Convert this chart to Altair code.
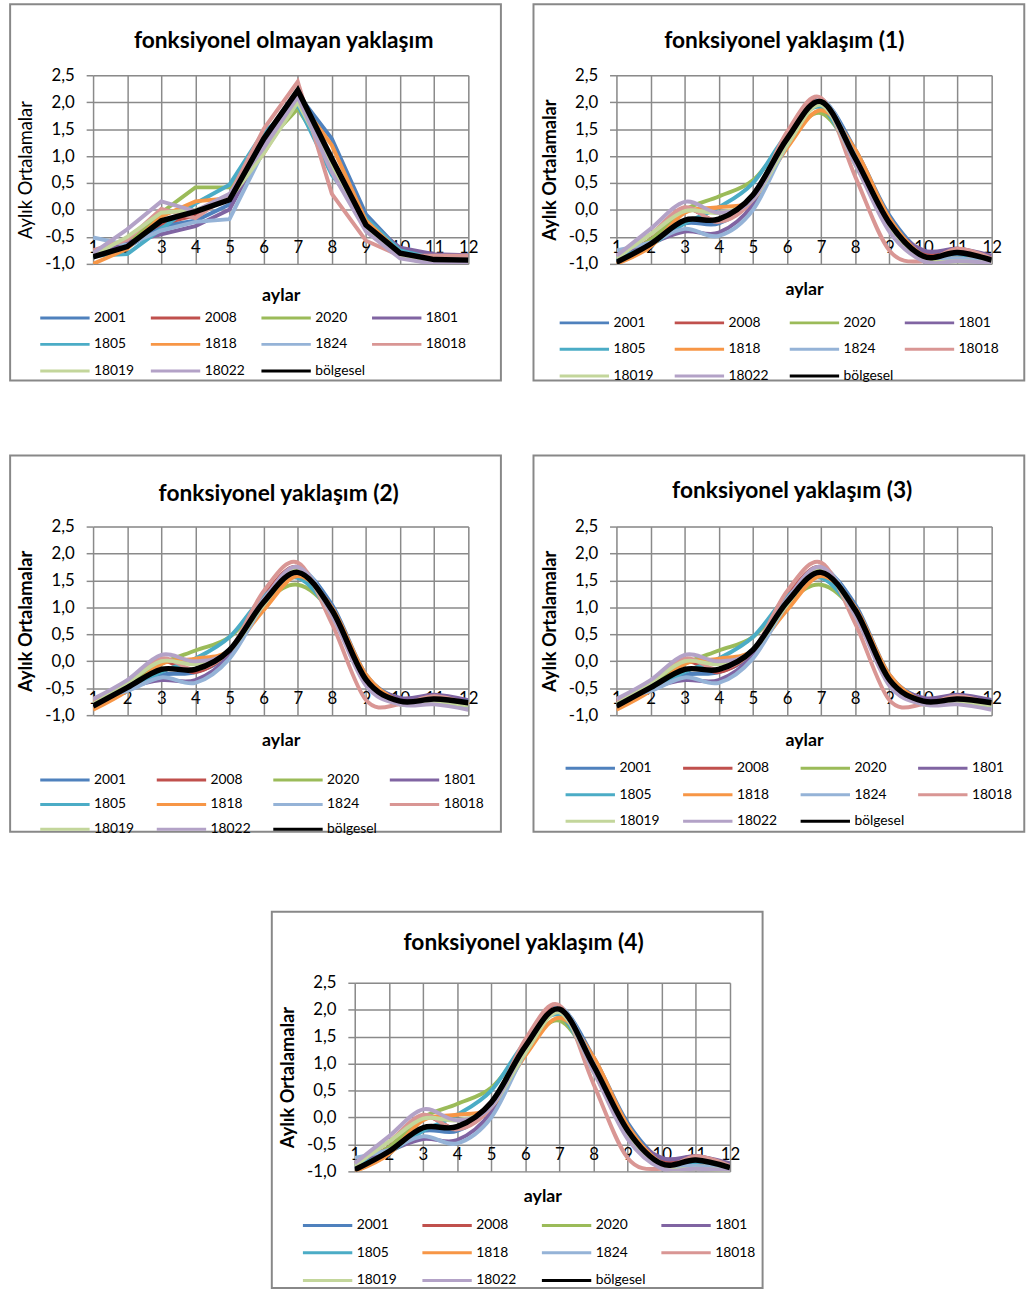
import altair as alt
import pandas as pd

MONTHS = list(range(1, 13))
SERIES = ["2001", "2008", "2020", "1801", "1805", "1818", "1824",
          "18018", "18019", "18022", "bölgesel"]
COLORS = ["#4F81BD", "#C0504D", "#9BBB59", "#8064A2", "#4BACC6", "#F79646",
          "#95B3D7", "#D99694", "#C3D69B", "#B3A2C7", "#000000"]
Y_TICKS = [-1.0, -0.5, 0.0, 0.5, 1.0, 1.5, 2.0, 2.5]
TITLES = ["fonksiyonel olmayan yaklaşım", "fonksiyonel yaklaşım (1)",
          "fonksiyonel yaklaşım (2)", "fonksiyonel yaklaşım (3)",
          "fonksiyonel yaklaşım (4)"]

# panel 1 : fonksiyonel olmayan yaklaşım
RAW_2001 = [-0.85, -0.70, -0.30, -0.20, 0.10, 1.25, 2.15, 1.32, -0.08, -0.75, -0.90, -0.92]
RAW_2008 = [-0.78, -0.58, -0.25, -0.10, 0.25, 1.30, 2.20, 0.90, -0.30, -0.80, -0.88, -0.88]
RAW_2020 = [-0.85, -0.65, -0.05, 0.42, 0.42, 1.20, 1.88, 0.90, -0.25, -0.88, -1.00, -1.00]
RAW_1801 = [-0.80, -0.60, -0.45, -0.30, 0.01, 1.20, 2.20, 0.90, -0.20, -0.70, -0.82, -0.84]
RAW_1805 = [-0.85, -0.82, -0.35, 0.12, 0.47, 1.45, 1.95, 0.65, -0.15, -0.75, -0.90, -0.92]
RAW_1818 = [-1.00, -0.72, -0.12, 0.16, 0.22, 1.05, 2.06, 1.20, -0.20, -0.80, -0.95, -0.95]
RAW_1824 = [-0.51, -0.65, -0.38, -0.22, -0.17, 1.10, 2.15, 0.85, -0.30, -0.82, -0.95, -0.96]
RAW_18018 = [-0.75, -0.55, 0.02, -0.15, 0.28, 1.50, 2.38, 0.30, -0.57, -0.85, -0.85, -0.85]
RAW_18019 = [-0.85, -0.50, -0.05, 0.00, 0.20, 1.05, 2.00, 0.80, -0.30, -0.85, -1.00, -1.00]
RAW_18022 = [-0.80, -0.36, 0.16, -0.02, 0.30, 1.15, 2.10, 0.70, -0.40, -0.90, -1.00, -1.00]
RAW_REG = [-0.87, -0.68, -0.20, -0.03, 0.19, 1.32, 2.22, 0.95, -0.28, -0.80, -0.92, -0.93]

# panel 2 (and 5) : fonksiyonel yaklaşım (1) / (4)
F1_2001 = [-0.95, -0.62, -0.25, -0.25, 0.20, 1.25, 2.02, 1.12, -0.10, -0.80, -0.85, -0.90]
F1_2008 = [-0.85, -0.55, 0.02, -0.20, 0.25, 1.40, 2.05, 0.90, -0.30, -0.82, -0.72, -0.90]
F1_2020 = [-0.90, -0.55, 0.00, 0.25, 0.55, 1.30, 1.80, 0.95, -0.25, -0.92, -0.95, -0.98]
F1_1801 = [-0.85, -0.62, -0.40, -0.42, 0.10, 1.30, 2.00, 0.95, -0.22, -0.75, -0.72, -0.85]
F1_1805 = [-0.90, -0.65, -0.25, 0.05, 0.50, 1.40, 1.90, 0.85, -0.30, -0.85, -0.88, -0.90]
F1_1818 = [-1.00, -0.68, -0.05, 0.05, 0.20, 1.15, 1.85, 1.12, -0.15, -0.85, -0.90, -0.95]
F1_1824 = [-0.75, -0.60, -0.35, -0.48, 0.00, 1.20, 2.05, 1.00, -0.30, -0.85, -0.90, -0.95]
F1_18018 = [-0.85, -0.45, 0.05, -0.22, 0.20, 1.45, 2.08, 0.62, -0.75, -0.95, -0.72, -0.90]
F1_18019 = [-0.90, -0.45, -0.02, -0.05, 0.20, 1.20, 1.95, 0.85, -0.35, -0.92, -0.95, -0.98]
F1_18022 = [-0.85, -0.35, 0.15, -0.05, 0.20, 1.30, 2.00, 0.85, -0.40, -0.95, -0.95, -0.98]
F1_REG = [-0.97, -0.63, -0.19, -0.17, 0.28, 1.32, 2.01, 0.96, -0.24, -0.86, -0.79, -0.93]

# panel 3 (and 4) : fonksiyonel yaklaşım (2) / (3)
F2_2001 = [-0.80, -0.50, -0.25, -0.20, 0.15, 1.10, 1.70, 1.05, -0.25, -0.70, -0.70, -0.75]
F2_2008 = [-0.75, -0.45, 0.00, -0.20, 0.20, 1.20, 1.75, 0.90, -0.35, -0.75, -0.65, -0.75]
F2_2020 = [-0.80, -0.45, -0.05, 0.20, 0.45, 1.10, 1.42, 0.90, -0.30, -0.75, -0.70, -0.80]
F2_1801 = [-0.75, -0.50, -0.35, -0.35, 0.10, 1.10, 1.70, 0.95, -0.30, -0.68, -0.62, -0.72]
F2_1805 = [-0.80, -0.55, -0.20, 0.05, 0.45, 1.20, 1.55, 0.85, -0.35, -0.75, -0.72, -0.75]
F2_1818 = [-0.90, -0.55, -0.05, 0.05, 0.20, 0.95, 1.58, 1.00, -0.25, -0.75, -0.75, -0.78]
F2_1824 = [-0.70, -0.55, -0.30, -0.40, 0.05, 1.05, 1.75, 0.95, -0.35, -0.80, -0.75, -0.85]
F2_18018 = [-0.75, -0.40, 0.05, -0.15, 0.20, 1.30, 1.83, 0.70, -0.72, -0.80, -0.65, -0.80]
F2_18019 = [-0.80, -0.40, 0.00, -0.05, 0.20, 1.05, 1.70, 0.85, -0.40, -0.80, -0.75, -0.82]
F2_18022 = [-0.70, -0.35, 0.12, 0.00, 0.20, 1.15, 1.75, 0.85, -0.45, -0.80, -0.80, -0.90]
F2_REG = [-0.83, -0.49, -0.15, -0.15, 0.21, 1.10, 1.65, 0.95, -0.34, -0.74, -0.70, -0.77]

RAW = [RAW_2001, RAW_2008, RAW_2020, RAW_1801, RAW_1805, RAW_1818, RAW_1824,
       RAW_18018, RAW_18019, RAW_18022, RAW_REG]
F1 = [F1_2001, F1_2008, F1_2020, F1_1801, F1_1805, F1_1818, F1_1824,
      F1_18018, F1_18019, F1_18022, F1_REG]
F2 = [F2_2001, F2_2008, F2_2020, F2_1801, F2_1805, F2_1818, F2_1824,
      F2_18018, F2_18019, F2_18022, F2_REG]

FONT = "Lato"
GRID = "#8a8a8a"
PW, PH = 380, 191


def make_panel(title, vals, interp, ybold, title_dx, title_dy, leg_x, leg_y,
               col_pad, row_pad, xtitle_pad):
    rows = []
    for s, arr in zip(SERIES, vals):
        for m, v in zip(MONTHS, arr):
            rows.append({"ay": m, "deger": v, "seri": s})
    df = pd.DataFrame(rows)

    x = alt.X("ay:Q",
              scale=alt.Scale(domain=[1, 12], nice=False, zero=False),
              axis=alt.Axis(values=MONTHS, grid=True, gridColor=GRID, gridWidth=1.5,
                            domain=False, ticks=False, offset=-27, labelPadding=2,
                            labelFlush=False, labelOverlap=False, labelFontSize=17,
                            labelFont=FONT, labelColor="black",
                            title="aylar", titleFontSize=18, titleFont=FONT,
                            titleFontWeight="bold", titleColor="black",
                            titlePadding=xtitle_pad))
    y = alt.Y("deger:Q",
              scale=alt.Scale(domain=[-1, 2.5], nice=False, zero=False),
              axis=alt.Axis(values=Y_TICKS, grid=True, gridColor=GRID, gridWidth=1.5,
                            domain=False, ticks=True, tickSize=7, tickColor=GRID,
                            tickWidth=1.5, labelPadding=12, labelFontSize=17,
                            labelFont=FONT, labelColor="black",
                            labelExpr="replace(replace(format(datum.value, '.1f'), '.', ','), '\u2212', '-')",
                            title="Aylık Ortalamalar", titleFontSize=18.5, titleFont=FONT,
                            titleFontWeight="bold" if ybold else "normal",
                            titleColor="black", titlePadding=9))
    color = alt.Color("seri:N", sort=SERIES,
                      scale=alt.Scale(domain=SERIES, range=COLORS),
                      legend=alt.Legend(orient="none", legendX=leg_x, legendY=leg_y,
                                        columns=4, direction="horizontal", title=None,
                                        symbolType="M-2.5,0H2.5", symbolSize=400,
                                        symbolStrokeWidth=3,
                                        labelFontSize=14, labelFont=FONT,
                                        labelColor="black", labelOffset=18,
                                        gridAlign="all", columnPadding=col_pad,
                                        rowPadding=row_pad, padding=0))
    base = alt.Chart(df)
    stations = base.transform_filter(alt.datum.seri != "bölgesel").mark_line(
        strokeWidth=4, interpolate=interp, clip=True).encode(x=x, y=y, color=color)
    regional = base.transform_filter(alt.datum.seri == "bölgesel").mark_line(
        strokeWidth=5.5, interpolate=interp, clip=True).encode(x=x, y=y, color=color)
    frame = alt.Chart(pd.DataFrame({"k": [0]})).mark_rect(
        fillOpacity=0, stroke="#888888", strokeWidth=2).encode(
        x=alt.value(-84), x2=alt.value(413), y=alt.value(-72), y2=alt.value(309))
    ttl = alt.Chart(pd.DataFrame({"t": [title]})).mark_text(
        font=FONT, fontSize=23, fontWeight="bold", color="black",
        align="center", baseline="middle").encode(
        x=alt.value(PW / 2 + title_dx), y=alt.value(-title_dy), text="t:N")
    return alt.layer(frame, stations, regional, ttl).properties(width=PW, height=PH)


p1 = make_panel(TITLES[0], RAW, "linear", False, 3, 35, -40, 234, 0, 8, 32)
p2 = make_panel(TITLES[1], F1, "cardinal", True, -20, 35, -44, 239, 4.5, 8, 26)
p3 = make_panel(TITLES[2], F2, "cardinal", True, -2, 33, -40, 245, 6, 6, 26)
p4 = make_panel(TITLES[3], F2, "cardinal", True, -12, 36, -38, 233, 7, 8, 26)
p5 = make_panel(TITLES[4], F1, "cardinal", True, -19, 40, -39, 234, 9, 9, 26)

row1 = alt.hconcat(p1, p2, spacing=29).resolve_scale(
    color="independent", x="independent", y="independent").resolve_legend(color="independent")
row2 = alt.hconcat(p3, p4, spacing=29).resolve_scale(
    color="independent", x="independent", y="independent").resolve_legend(color="independent")

top = alt.vconcat(row1, row2, spacing=70).resolve_scale(
    color="independent", x="independent", y="independent").resolve_legend(color="independent")

chart = alt.vconcat(top, p5, spacing=73, center=True).resolve_scale(
    color="independent", x="independent", y="independent").resolve_legend(
    color="independent").properties(
    padding={"left": 8, "top": -6, "right": 0, "bottom": 0}).configure_view(
    stroke=None).configure(font=FONT)

chart.save("out.html", embed_options={"renderer": "svg", "actions": False})
